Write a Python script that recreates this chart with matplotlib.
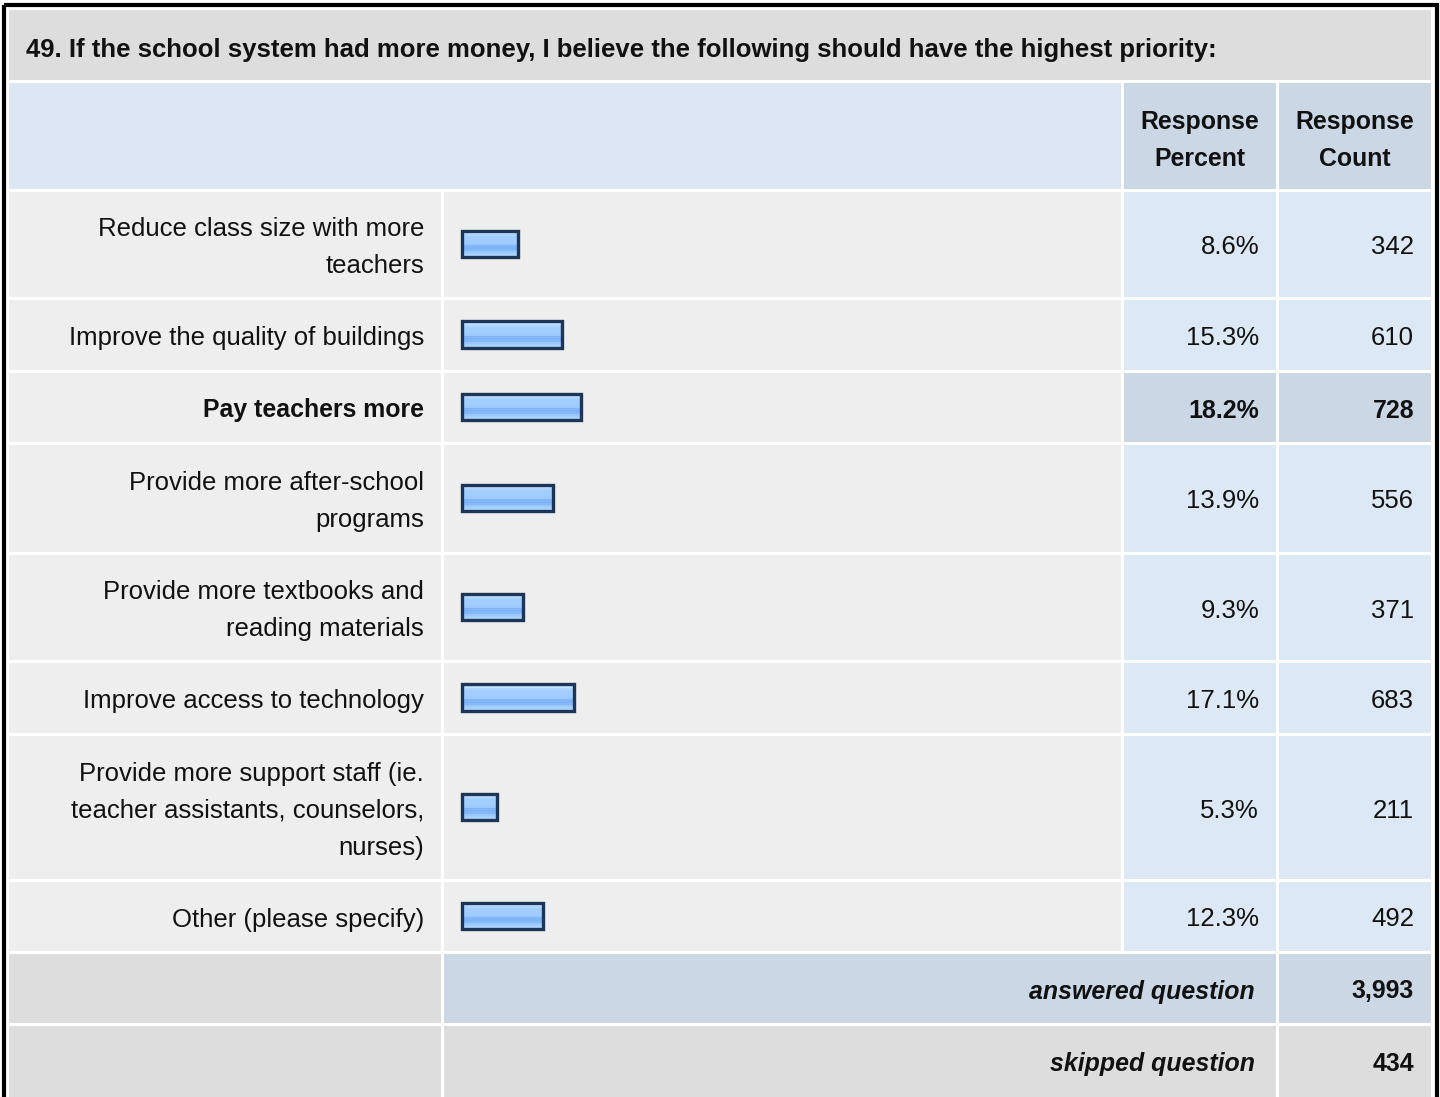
import numpy as np
import matplotlib
matplotlib.use("Agg")
import matplotlib.pyplot as plt
from matplotlib.patches import Rectangle
from matplotlib.colors import to_rgb

# ---------------- data ----------------
title = ("49. If the school system had more money, I believe the following "
         "should have the highest priority:")
categories = [
    "Reduce class size with more\nteachers",
    "Improve the quality of buildings",
    "Pay teachers more",
    "Provide more after-school\nprograms",
    "Provide more textbooks and\nreading materials",
    "Improve access to technology",
    "Provide more support staff (ie.\nteacher assistants, counselors,\nnurses)",
    "Other (please specify)",
]
percents = [8.6, 15.3, 18.2, 13.9, 9.3, 17.1, 5.3, 12.3]
counts = [342, 610, 728, 556, 371, 683, 211, 492]
answered = 3993
skipped = 434
col_headers = ["Response\nPercent", "Response\nCount"]

# ---------------- layout (pixels) ----------------
W, H = 1440, 1097
FONT = ["Liberation Sans", "Arimo", "DejaVu Sans"]
FS = 18.5
FSB = 17.9
TFS = 18.5
DY = 3  # baseline correction

col_label = (9, 441)
col_bar = (444, 1121)
col_pct = (1124, 1276)
col_cnt = (1279, 1431)
title_row = (10, 80)
header_row = (83, 189)
data_rows = [(192, 297), (300, 370), (373, 442), (445, 552),
             (555, 660), (663, 733), (736, 879), (882, 951)]
ans_row = (954, 1023)
skip_row = (1026, 1110)

C_TITLE = "#dddddd"
C_HEAD = "#dce6f4"
C_HEAD2 = "#cbd7e5"
C_CELL = "#eeeeee"
C_NUM = "#dde8f6"
C_HI = "#cbd7e5"
C_GREY = "#dddddd"

fig = plt.figure(figsize=(W / 100, H / 100), dpi=100)
fig.patch.set_facecolor("white")
ax = fig.add_axes([0, 0, 1, 1])
ax.set_xlim(0, W)
ax.set_ylim(H, 0)
ax.axis("off")


def cell(cols, rows, color):
    ax.add_patch(Rectangle((cols[0], rows[0]), cols[1] - cols[0],
                           rows[1] - rows[0], facecolor=color,
                           edgecolor="none", zorder=1))


def txt(x, y, s, ha="right", **kw):
    ax.text(x, y + DY, s, fontsize=kw.pop("fontsize", FS), family=FONT,
            ha=ha, va="center", color="#111111", zorder=6, **kw)


# outer border
ax.add_patch(Rectangle((4, 5), 1433 - 4 + 4, H, facecolor="none",
                       edgecolor="black", linewidth=3.0, zorder=5))

# title
cell((col_label[0], col_cnt[1]), title_row, C_TITLE)
txt(26, sum(title_row) / 2 + 2, title, ha="left", fontsize=TFS,
    fontweight="bold")

# header
cell((col_label[0], col_bar[1]), header_row, C_HEAD)
cell(col_pct, header_row, C_HEAD2)
cell(col_cnt, header_row, C_HEAD2)
LS = 37
for cols, t in zip([col_pct, col_cnt], col_headers):
    lines = t.split("\n")
    yc = sum(header_row) / 2 + 2
    for i, ln in enumerate(lines):
        y = yc + (i - (len(lines) - 1) / 2) * LS
        txt(sum(cols) / 2, y, ln, ha="center", fontweight="bold",
            fontsize=FSB)

hi = int(np.argmax(percents))

for k, (rows, cat, p, c) in enumerate(zip(data_rows, categories,
                                            percents, counts)):
    cell(col_label, rows, C_CELL)
    cell(col_bar, rows, C_CELL)
    numc = C_HI if k == hi else C_NUM
    cell(col_pct, rows, numc)
    cell(col_cnt, rows, numc)
    fw = "bold" if k == hi else "normal"
    fs = FSB if k == hi else FS
    yc = sum(rows) / 2
    lines = cat.split("\n")
    for i, ln in enumerate(lines):
        y = yc + (i - (len(lines) - 1) / 2) * LS
        txt(424, y, ln, fontweight=fw, fontsize=fs)
    txt(1259, yc, f"{p:.1f}%", fontweight=fw, fontsize=fs)
    txt(1414, yc, f"{c:,}", fontweight=fw, fontsize=fs)

# answered / skipped
cell(col_label, ans_row, C_GREY)
cell((col_bar[0], col_pct[1]), ans_row, C_HI)
cell(col_cnt, ans_row, C_HI)
cell(col_label, skip_row, C_GREY)
cell((col_bar[0], col_pct[1]), skip_row, C_GREY)
cell(col_cnt, skip_row, C_GREY)
for yc, lab, val in [(sum(ans_row) / 2, "answered question", answered),
                     (1061, "skipped question", skipped)]:
    txt(1255, yc, lab, fontweight="bold", style="italic", fontsize=FSB)
    txt(1414, yc, f"{val:,}", fontweight="bold", fontsize=FSB)

# ---------------- bars ----------------
S = 6.55  # px per percent
x0 = 462
bax = fig.add_axes([col_bar[0] / W, 0, (col_bar[1] - col_bar[0]) / W, 1])
bax.axis("off")
bax.patch.set_alpha(0)
ycent = [sum(r) / 2 - 0.5 for r in data_rows]
BH = 26.5
grad_cols = ["#d2e8ff", "#c2e0ff", "#aed5ff", "#a2ceff", "#a2ceff",
             "#a0ccff", "#a0ccff", "#9cc8fe", "#82b6f6", "#7fb3f5",
             "#84b8f7", "#9cc9fd", "#a6d0ff", "#b4d8ff"]
grad = np.array([[to_rgb(cc)] for cc in grad_cols])
for p, yc in zip(percents, ycent):
    bax.imshow(grad, extent=(0, p, yc + BH / 2, yc - BH / 2),
               aspect="auto", origin="upper", interpolation="nearest",
               zorder=2)
bax.barh(ycent, percents, height=BH, left=0, facecolor="none",
         edgecolor="#1d3557", linewidth=2.4, zorder=3)
bax.set_xlim((col_bar[0] - x0) / S, (col_bar[1] - x0) / S)
bax.set_ylim(H, 0)

fig.savefig("out.png", dpi=100, facecolor="white")
